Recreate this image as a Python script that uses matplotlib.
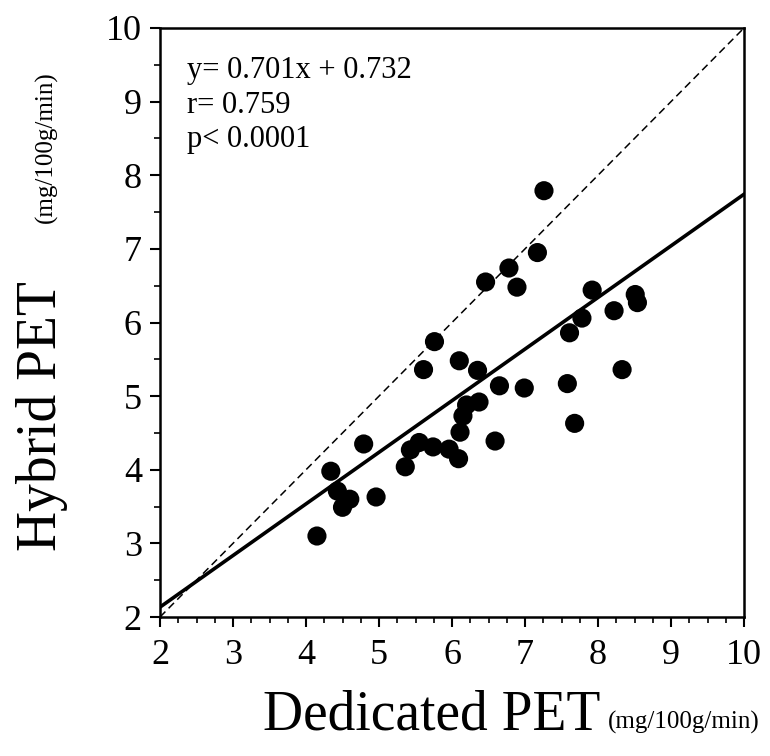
import numpy as np
import matplotlib
matplotlib.use("Agg")
import matplotlib.pyplot as plt
from matplotlib.ticker import MultipleLocator

plt.rcParams["font.family"] = ["Liberation Serif", "DejaVu Serif"]

# Dedicated PET vs Hybrid PET (mg/100g/min)
dedicated = [7.26, 7.17, 6.78, 6.46, 6.89, 7.92, 8.51, 8.54, 8.22, 7.78,
             7.61, 6.10, 6.35, 8.33, 6.65, 6.99, 7.58, 6.37, 6.20, 6.15,
             6.11, 7.68, 6.59, 5.96, 6.09, 5.76, 5.61, 4.79, 4.34, 4.43,
             4.60, 4.50, 4.96, 4.15, 5.36, 5.43, 5.55, 5.74]
hybrid = [7.79, 6.95, 6.74, 6.55, 6.48, 6.44, 6.38, 6.27, 6.16, 6.06,
          5.86, 5.48, 5.35, 5.36, 5.14, 5.11, 5.17, 4.92, 4.88, 4.73,
          4.51, 4.63, 4.39, 4.28, 4.15, 5.74, 5.36, 4.35, 3.98, 3.71,
          3.60, 3.49, 3.63, 3.10, 4.04, 4.27, 4.37, 4.31]

slope, intercept = 0.701, 0.732
line_x = [2, 10]
ticks = [2, 3, 4, 5, 6, 7, 8, 9, 10]

fig = plt.figure(figsize=(7.7, 7.56), dpi=100)
ax = fig.add_axes([160 / 770, 1 - 617 / 756, 584 / 770, 589 / 756])

ax.plot(line_x, line_x, color="black", lw=1.1, ls=(0, (5, 3)))
ax.plot(line_x, [slope * v + intercept for v in line_x], color="black", lw=2.6)
ax.scatter(dedicated, hybrid, s=190, color="black", edgecolors="none", zorder=3)

ax.set_xlim(2, 10)
ax.set_ylim(2, 10)
ax.set_xticks(ticks)
ax.set_yticks(ticks)
ax.xaxis.set_minor_locator(MultipleLocator(0.25))
ax.yaxis.set_minor_locator(MultipleLocator(0.5))
ax.tick_params(which="major", direction="out", length=7, width=1.5,
               labelsize=26, pad=6)
ax.tick_params(axis="x", which="major", pad=9)
ax.tick_params(which="minor", direction="out", length=4, width=1.2)
for s in ax.spines.values():
    s.set_linewidth(1.8)

ax.text(0.047, 0.952, "y= 0.701x + 0.732\nr= 0.759\np< 0.0001",
        transform=ax.transAxes, ha="left", va="top", fontsize=22,
        linespacing=1.25)

fig.text(432 / 770, 1 - 716 / 756, "Dedicated PET", fontsize=40,
         ha="center", va="center")
fig.text(608 / 770, 1 - 722 / 756, "(mg/100g/min)", fontsize=18,
         ha="left", va="center")
fig.text(42 / 770, 1 - 416 / 756, "Hybrid PET", fontsize=40,
         rotation=90, ha="center", va="center")
fig.text(46 / 770, 1 - 147 / 756, "(mg/100g/min)", fontsize=18,
         rotation=90, ha="center", va="center")

fig.savefig("out.png", dpi=100, facecolor="white")
plt.close(fig)
